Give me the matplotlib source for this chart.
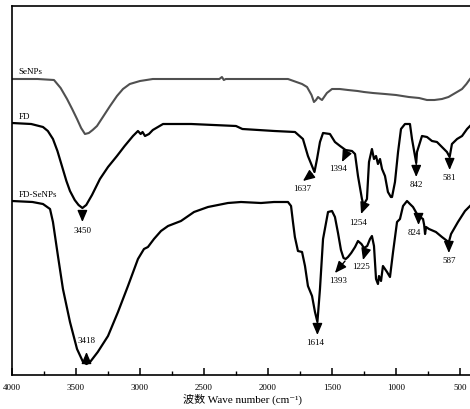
import matplotlib
matplotlib.use("Agg")
import matplotlib.pyplot as plt
from matplotlib.ticker import MultipleLocator

plt.rcParams['font.family'] = ['Liberation Serif', 'Noto Sans CJK SC', 'DejaVu Sans']

# FT-IR spectra, transmittance in arbitrary offset units
wn_se = [4000, 3800, 3672, 3620, 3570, 3530, 3492, 3460, 3430, 3400, 3370, 3336, 3290,
         3234, 3180, 3133, 3080, 3000, 2900, 2800,
         2380, 2360, 2345, 2330, 2100, 1844, 1734, 1695, 1660, 1641, 1625, 1609, 1590,
         1578, 1540, 1500, 1440, 1375, 1300, 1250, 1180, 1086, 1000, 900, 820, 758,
         700, 641, 590, 550, 510, 484, 450, 422, 400]
t_se = [296, 296, 295, 287, 276, 266, 256, 247, 241, 242, 245, 249, 258,
        269, 279, 286, 291, 294, 296, 296,
        296, 298, 295, 296, 296, 296, 291, 288, 280, 273, 275, 278, 276,
        275, 282, 286, 286, 285, 284, 283, 282, 281, 280, 278, 277, 275,
        275, 276, 278, 281, 284, 286, 291, 296, 299]

wn_fd = [4000, 3850, 3758, 3720, 3680, 3645, 3610, 3575, 3547, 3510, 3480, 3450, 3420,
         3375, 3313, 3250, 3180, 3120, 3055, 3016,
         2995, 2980, 2961, 2930, 2900, 2820, 2600, 2250, 2200, 1950, 1789, 1727, 1688,
         1637, 1617, 1594, 1570, 1516, 1477, 1437, 1394, 1344, 1320, 1297, 1266, 1254,
         1227, 1211, 1188, 1172, 1156, 1141, 1125, 1109, 1086, 1063, 1040, 1031, 1008,
         984, 961, 930, 891, 875, 842, 836, 797, 758, 719, 680, 641, 602, 581, 563,
         523, 484, 445, 422, 400]
t_fd = [252, 251, 248, 244, 236, 224, 209, 194, 184, 175, 170, 167, 170,
        180, 196, 208, 219, 229, 239, 244,
        241, 243, 239, 241, 245, 251, 251, 249, 246, 244, 243, 236, 219,
        203, 216, 233, 242, 241, 233, 229, 225, 224, 221, 199, 176, 170,
        176, 213, 226, 216, 219, 211, 216, 206, 199, 183, 178, 178, 193,
        223, 246, 251, 251, 236, 212, 223, 239, 238, 234, 233, 228, 223, 218, 231,
        236, 239, 246, 249, 252]

wn_fdse = [4000, 3840, 3758, 3703, 3680, 3641, 3602, 3547, 3492, 3445, 3418, 3390, 3330,
           3250, 3172, 3094, 3016, 2969, 2938, 2891, 2836, 2781, 2680, 2578, 2469, 2313,
           2211, 2055, 1953, 1844, 1820, 1805, 1790, 1766, 1734, 1711, 1688, 1656, 1633,
           1614, 1594, 1570, 1531, 1500, 1477, 1453, 1430, 1410, 1393, 1375, 1350, 1320,
           1297, 1270, 1250, 1225, 1203, 1188, 1172, 1156, 1141, 1133, 1117, 1102, 1070,
           1047, 1023, 992, 969, 945, 914, 891, 867, 836, 824, 813, 789, 780, 773, 765,
           742, 688, 641, 600, 587, 570, 516, 461, 422, 400]
t_fdse = [174, 173, 171, 166, 153, 119, 86, 53, 26, 13, 11, 13, 23,
          39, 63, 89, 116, 126, 128, 136, 144, 149, 154, 163, 168, 172,
          173, 172, 173, 173, 169, 153, 138, 124, 123, 109, 89, 79, 63,
          53, 86, 136, 163, 164, 158, 142, 125, 117, 116, 118, 122, 128,
          134, 131, 127, 129, 136, 139, 129, 96, 91, 99, 94, 109, 103,
          98, 123, 153, 156, 169, 174, 171, 168, 161, 160, 158, 156, 150, 141, 148,
          146, 143, 138, 134, 133, 141, 153, 164, 169, 172]

# peak labels: (text, arrow tail, arrow head, label position)
peaks = [
    ('3450', (3450, 164), (3450, 153), (3450, 145)),
    ('1637', (1656, 201), (1727, 194), (1734, 187)),
    ('1394', (1383, 223), (1422, 213), (1453, 207)),
    ('1254', (1242, 172), (1273, 161), (1297, 153)),
    ('842', (842, 211), (842, 198), (842, 191)),
    ('581', (581, 217), (581, 205), (581, 198)),
    ('3418', (3418, 12), (3418, 23), (3418, 35)),
    ('1614', (1614, 52), (1614, 40), (1630, 33)),
    ('1393', (1398, 114), (1477, 102), (1453, 95)),
    ('1225', (1234, 126), (1258, 115), (1273, 109)),
    ('824', (824, 161), (824, 150), (859, 143)),
    ('587', (587, 133), (587, 122), (587, 115)),
]

fig = plt.figure(figsize=(4.7, 4.1), dpi=100)
ax = fig.add_axes([12 / 470, 34 / 410, 460.8 / 470, 369 / 410])

ax.plot(wn_se, t_se, color='#505050', lw=1.5)
ax.plot(wn_fd, t_fd, color='black', lw=1.6)
ax.plot(wn_fdse, t_fdse, color='black', lw=1.6)

ax.text(3950, 304, 'SeNPs', fontsize=6.5, va='center')
ax.text(3950, 259, 'FD', fontsize=6.5, va='center')
ax.text(3950, 181, 'FD-SeNPs', fontsize=6.5, va='center')

for lab, tail, head, pos in peaks:
    ax.annotate('', xy=head, xytext=tail,
                arrowprops=dict(arrowstyle='-|>,head_length=0.7,head_width=0.3',
                                color='black', lw=1.0, shrinkA=0, shrinkB=0))
    ax.text(pos[0], pos[1], lab, fontsize=6.5, ha='center', va='center')

ax.set_xlim(4000, 400)
ax.set_ylim(0, 369)
ax.set_yticks([])
ax.xaxis.set_major_locator(MultipleLocator(500))
ax.xaxis.set_minor_locator(MultipleLocator(250))
ax.tick_params(axis='x', which='major', direction='in', length=5, width=1.1,
               labelsize=6.5, pad=6)
ax.tick_params(axis='x', which='minor', direction='in', length=3, width=1.0)
for s in ax.spines.values():
    s.set_linewidth(1.2)
ax.set_xlabel('波数 Wave number (cm⁻¹)', fontsize=8, labelpad=1)

fig.savefig('out.png', dpi=100)
